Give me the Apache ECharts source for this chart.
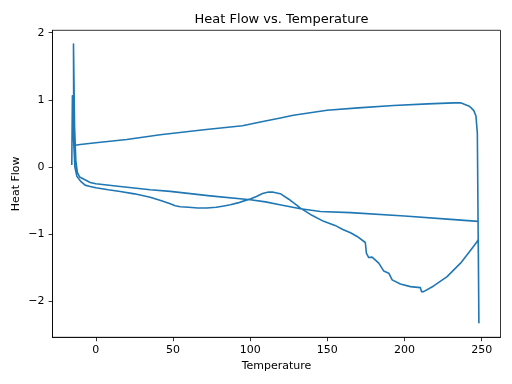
<!DOCTYPE html>
<html>
<head>
<meta charset="utf-8">
<script src="https://cdn.jsdelivr.net/npm/echarts@6/dist/echarts.min.js"></script>
<style>html,body{margin:0;padding:0;background:#fff}#c{width:512px;height:384px}</style>
</head>
<body>
<div id="c"></div>
<script>
// First heating (lower curve)
var heat1T = [-15.6, -15.2, -14.6, -13.6, -12.3, -10, -7, -3.7, 0, 8, 15.8, 25, 35.2, 42, 48.2, 51.4, 54.7, 60, 66, 72, 78, 83, 87.1, 92, 96, 100.1, 104, 108, 111.9, 115, 119.5, 125, 132.6, 140, 147.6, 155, 160, 165, 169.3, 174.6, 175.3, 176.8, 179, 183.3, 186.5, 189.8, 192, 197.3, 203.8, 210.3, 211, 212.4, 218.9, 227.6, 236.3, 242.7, 247.1, 247.8];
var heat1HF = [0.03, 1.06, 0.5, 0.0, -0.14, -0.21, -0.27, -0.29, -0.31, -0.34, -0.364, -0.4, -0.45, -0.5, -0.548, -0.578, -0.592, -0.6, -0.61, -0.612, -0.6, -0.58, -0.563, -0.535, -0.505, -0.478, -0.44, -0.395, -0.372, -0.375, -0.398, -0.48, -0.612, -0.72, -0.81, -0.87, -0.93, -0.98, -1.035, -1.125, -1.284, -1.349, -1.343, -1.433, -1.548, -1.582, -1.682, -1.742, -1.782, -1.797, -1.857, -1.857, -1.772, -1.633, -1.433, -1.245, -1.11, -1.08];
// Cooling (upper curve)
var coolT = [248.2, 247.2, 246.3, 244.9, 243.2, 241.6, 236.3, 232, 215, 193, 170, 149.8, 128, 119.6, 106.6, 95, 70, 41.7, 20, 0, -10.2, -14.3];
var coolHF = [-2.32, 0.5, 0.76, 0.84, 0.88, 0.91, 0.955, 0.955, 0.94, 0.915, 0.88, 0.845, 0.77, 0.73, 0.67, 0.615, 0.555, 0.48, 0.41, 0.36, 0.335, 0.32];
// Second heating (middle curve)
var heat2T = [-14.5, -13.8, -13, -12, -10.5, -8, -3.7, 0, 15.8, 35.2, 48.2, 74.1, 100.1, 110, 120, 132.6, 145.5, 165, 200, 230, 247.7];
var heat2HF = [1.83, 0.6, 0.1, -0.08, -0.15, -0.18, -0.23, -0.25, -0.29, -0.339, -0.364, -0.43, -0.488, -0.52, -0.565, -0.622, -0.662, -0.68, -0.73, -0.78, -0.81];
var xTicks = [0, 50, 100, 150, 200, 250];
var yTicks = [-2, -1, 0, 1, 2];

var T = heat1T.concat(coolT, heat2T);
var HF = heat1HF.concat(coolHF, heat2HF);
var pts = T.map(function (t, i) { return [t, HF[i]]; });
function fmt(v) { return String(v).replace('-', '\u2212'); }

var chart = echarts.init(document.getElementById('c'), null, {renderer: 'canvas'});
var font = 'DejaVu Sans';
chart.setOption({
  animation: false,
  title: {
    text: 'Heat Flow vs. Temperature',
    left: 276.5, top: 8, textAlign: 'center',
    textStyle: {fontFamily: font, fontSize: 13, fontWeight: 'normal', color: '#000'}
  },
  grid: {left: 52.5, right: 11.5, top: 30.3, bottom: 46.7, show: true, borderColor: '#000', borderWidth: 0.8, backgroundColor: 'transparent'},
  xAxis: {
    type: 'value', min: -28.1, max: 262.2,
    name: 'Temperature', nameLocation: 'middle', nameGap: 23, nameMoveOverlap: false,
    nameTextStyle: {fontFamily: font, fontSize: 11, color: '#000'},
    axisLine: {show: true, onZero: false, lineStyle: {color: '#000', width: 0.8}},
    axisTick: {show: true, length: 3.9, customValues: xTicks, lineStyle: {color: '#000', width: 0.8}},
    axisLabel: {customValues: xTicks, margin: 7, fontFamily: font, fontSize: 11, color: '#000', formatter: fmt},
    splitLine: {show: false}
  },
  yAxis: {
    type: 'value', min: -2.537, max: 2.036,
    name: 'Heat Flow', nameLocation: 'middle', nameGap: 31, nameMoveOverlap: false,
    nameTextStyle: {fontFamily: font, fontSize: 11, color: '#000'},
    axisLine: {show: true, onZero: false, lineStyle: {color: '#000', width: 0.8}},
    axisTick: {show: true, length: 3.9, customValues: yTicks, lineStyle: {color: '#000', width: 0.8}},
    axisLabel: {customValues: yTicks, margin: 8, fontFamily: font, fontSize: 11, color: '#000', formatter: fmt},
    splitLine: {show: false}
  },
  series: [{
    type: 'line', data: pts, showSymbol: false, symbol: 'none',
    lineStyle: {color: '#1f77b4', width: 1.6, join: 'round'},
    clip: true
  }]
});
</script>
</body>
</html>
